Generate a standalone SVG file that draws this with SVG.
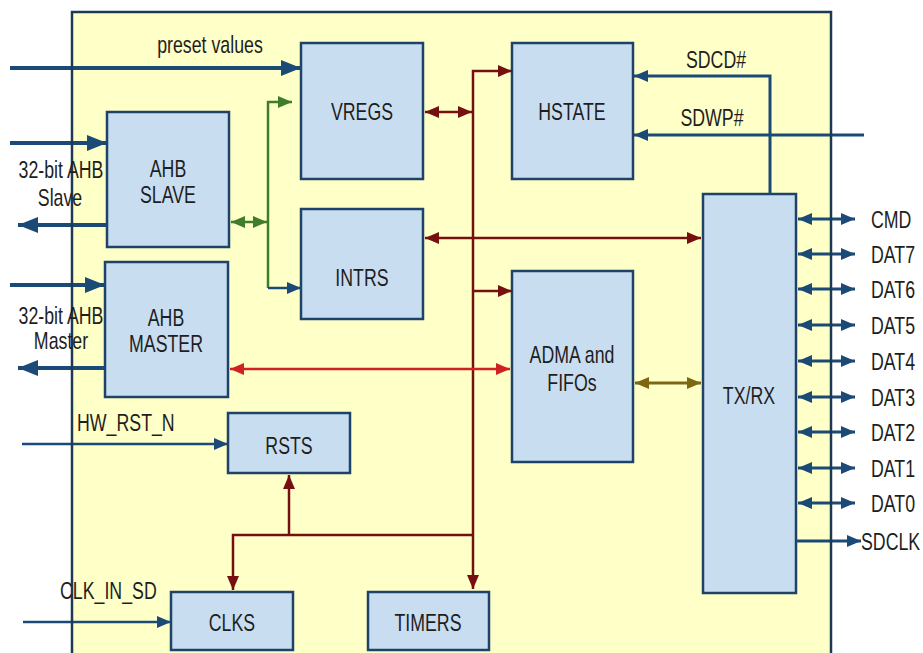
<svg xmlns="http://www.w3.org/2000/svg" width="923" height="653" viewBox="0 0 923 653">
<defs>
<style>
.box{fill:#c9ddf1;stroke:#1d4468;stroke-width:2.5}
.t{font-family:"Liberation Sans",Arial,sans-serif;font-size:24px;fill:#1e1e1e;text-anchor:middle}
.tl{text-anchor:start}
.blue{stroke:#1b4a76;fill:none}
.dred{stroke:#761010;fill:none;stroke-width:2.5}
.grn{stroke:#3f7d2a;fill:none;stroke-width:2.5}
.red{stroke:#d02222;fill:none;stroke-width:2.5}
.olv{stroke:#7d6614;fill:none;stroke-width:3}
</style>
<marker id="mbB" viewBox="0 0 20 16" refX="20" refY="8" markerWidth="20" markerHeight="16" markerUnits="userSpaceOnUse" orient="auto-start-reverse"><path d="M0,0 L20,8 L0,16 z" fill="#1b4a76"/></marker>
<marker id="mb" viewBox="0 0 14 12" refX="14" refY="6" markerWidth="14" markerHeight="12" markerUnits="userSpaceOnUse" orient="auto-start-reverse"><path d="M0,0 L14,6 L0,12 z" fill="#1b4a76"/></marker>
<marker id="md" viewBox="0 0 14 12" refX="14" refY="6" markerWidth="14" markerHeight="12" markerUnits="userSpaceOnUse" orient="auto-start-reverse"><path d="M0,0 L14,6 L0,12 z" fill="#761010"/></marker>
<marker id="mg" viewBox="0 0 14 12" refX="14" refY="6" markerWidth="14" markerHeight="12" markerUnits="userSpaceOnUse" orient="auto-start-reverse"><path d="M0,0 L14,6 L0,12 z" fill="#3f7d2a"/></marker>
<marker id="mr" viewBox="0 0 14 12" refX="14" refY="6" markerWidth="14" markerHeight="12" markerUnits="userSpaceOnUse" orient="auto-start-reverse"><path d="M0,0 L14,6 L0,12 z" fill="#d02222"/></marker>
<marker id="mo" viewBox="0 0 14 12" refX="14" refY="6" markerWidth="14" markerHeight="12" markerUnits="userSpaceOnUse" orient="auto-start-reverse"><path d="M0,0 L14,6 L0,12 z" fill="#7d6614"/></marker>
</defs>
<rect width="923" height="653" fill="#ffffff"/>
<rect x="72" y="12" width="759" height="660" fill="#ffffc8"/>

<g id="ahb-slave"><rect class="box" x="107" y="112" width="122" height="135"/>
<text class="t" transform="translate(168,177) scale(0.74,1)">AHB</text>
<text class="t" transform="translate(168,203) scale(0.74,1)">SLAVE</text></g>
<g id="ahb-master"><rect class="box" x="105" y="262" width="123" height="135"/>
<text class="t" transform="translate(166,326) scale(0.74,1)">AHB</text>
<text class="t" transform="translate(166,352) scale(0.74,1)">MASTER</text></g>
<g id="vregs"><rect class="box" x="301" y="43" width="122" height="136"/>
<text class="t" transform="translate(362,120) scale(0.74,1)">VREGS</text></g>
<g id="intrs"><rect class="box" x="301" y="209" width="122" height="110"/>
<text class="t" transform="translate(362,286) scale(0.74,1)">INTRS</text></g>
<g id="hstate"><rect class="box" x="512" y="43" width="121" height="136"/>
<text class="t" transform="translate(572,120) scale(0.74,1)">HSTATE</text></g>
<g id="adma"><rect class="box" x="512" y="271" width="121" height="191"/>
<text class="t" transform="translate(572,363) scale(0.74,1)">ADMA and</text>
<text class="t" transform="translate(572,391) scale(0.74,1)">FIFOs</text></g>
<g id="txrx"><rect class="box" x="703" y="194" width="93" height="399"/>
<text class="t" transform="translate(749,404) scale(0.74,1)">TX/RX</text></g>
<g id="rsts"><rect class="box" x="228" y="413" width="122" height="60"/>
<text class="t" transform="translate(289,454) scale(0.74,1)">RSTS</text></g>
<g id="clks"><rect class="box" x="171" y="592" width="122" height="58"/>
<text class="t" transform="translate(232,631) scale(0.74,1)">CLKS</text></g>
<g id="timers"><rect class="box" x="368" y="592" width="121" height="58"/>
<text class="t" transform="translate(428,631) scale(0.74,1)">TIMERS</text></g>

<g id="connectors">
<path class="blue" stroke-width="4" d="M10,68 H301" marker-end="url(#mbB)"/>
<path class="blue" stroke-width="4" d="M10,143 H107" marker-end="url(#mbB)"/>
<path class="blue" stroke-width="4" d="M107,225 H18" marker-end="url(#mbB)"/>
<path class="blue" stroke-width="4" d="M10,285 H105" marker-end="url(#mbB)"/>
<path class="blue" stroke-width="4" d="M105,368 H18" marker-end="url(#mbB)"/>
<path class="blue" stroke-width="2.5" d="M22,444 H228" marker-end="url(#mb)"/>
<path class="blue" stroke-width="2.5" d="M23,622 H171" marker-end="url(#mb)"/>

<path class="grn" d="M268,288 V102 H292" marker-end="url(#mg)"/>
<path class="grn" d="M231,222 H267" marker-start="url(#mg)" marker-end="url(#mg)"/>
<path class="blue" stroke-width="2.5" d="M268,288 H301" marker-end="url(#mb)"/>

<path class="dred" d="M473,535 V71 H512" marker-end="url(#md)"/>
<path class="dred" d="M473,535 V589" marker-end="url(#md)"/>
<path class="dred" d="M425,112 H472" marker-start="url(#md)" marker-end="url(#md)"/>
<path class="dred" d="M473,291 H512" marker-end="url(#md)"/>
<path class="dred" d="M425,238 H701" marker-start="url(#md)" marker-end="url(#md)"/>
<path class="dred" d="M473,535 H233 V590" marker-end="url(#md)"/>
<path class="dred" d="M289,535 V475" marker-end="url(#md)"/>

<path class="red" d="M230,369 H510" marker-start="url(#mr)" marker-end="url(#mr)"/>
<path class="olv" d="M635,383 H701" marker-start="url(#mo)" marker-end="url(#mo)"/>

<path class="blue" stroke-width="3" d="M770,194 V76 H634" marker-end="url(#mb)"/>
<path class="blue" stroke-width="3" d="M864,135 H634" marker-end="url(#mb)"/>

<g class="blue" stroke-width="3">
<path d="M798,219 H855" marker-start="url(#mb)" marker-end="url(#mb)"/>
<path d="M798,254 H855" marker-start="url(#mb)" marker-end="url(#mb)"/>
<path d="M798,289 H855" marker-start="url(#mb)" marker-end="url(#mb)"/>
<path d="M798,325 H855" marker-start="url(#mb)" marker-end="url(#mb)"/>
<path d="M798,361 H855" marker-start="url(#mb)" marker-end="url(#mb)"/>
<path d="M798,397 H855" marker-start="url(#mb)" marker-end="url(#mb)"/>
<path d="M798,432 H855" marker-start="url(#mb)" marker-end="url(#mb)"/>
<path d="M798,468 H855" marker-start="url(#mb)" marker-end="url(#mb)"/>
<path d="M798,503 H855" marker-start="url(#mb)" marker-end="url(#mb)"/>
<path d="M796,541 H861" marker-end="url(#mb)"/>
</g>
</g>

<rect x="72" y="12" width="759" height="660" fill="none" stroke="#1d3a55" stroke-width="2.5"/>

<g id="labels">
<text class="t" transform="translate(210,53) scale(0.74,1)">preset values</text>
<text class="t" transform="translate(61,178) scale(0.74,1)">32-bit AHB</text>
<text class="t" transform="translate(60,206) scale(0.74,1)">Slave</text>
<text class="t" transform="translate(61,324) scale(0.74,1)">32-bit AHB</text>
<text class="t" transform="translate(61,349) scale(0.74,1)">Master</text>
<text class="t tl" transform="translate(77,431) scale(0.74,1)">HW_RST_N</text>
<text class="t tl" transform="translate(60,599) scale(0.74,1)">CLK_IN_SD</text>
<text class="t" transform="translate(716,68) scale(0.74,1)">SDCD#</text>
<text class="t" transform="translate(712,126) scale(0.74,1)">SDWP#</text>
<text class="t tl" transform="translate(871,228) scale(0.74,1)">CMD</text>
<text class="t tl" transform="translate(871,263) scale(0.74,1)">DAT7</text>
<text class="t tl" transform="translate(871,298) scale(0.74,1)">DAT6</text>
<text class="t tl" transform="translate(871,334) scale(0.74,1)">DAT5</text>
<text class="t tl" transform="translate(871,370) scale(0.74,1)">DAT4</text>
<text class="t tl" transform="translate(871,406) scale(0.74,1)">DAT3</text>
<text class="t tl" transform="translate(871,441) scale(0.74,1)">DAT2</text>
<text class="t tl" transform="translate(871,477) scale(0.74,1)">DAT1</text>
<text class="t tl" transform="translate(871,512) scale(0.74,1)">DAT0</text>
<text class="t tl" transform="translate(861,550) scale(0.74,1)">SDCLK</text>
</g>
</svg>
